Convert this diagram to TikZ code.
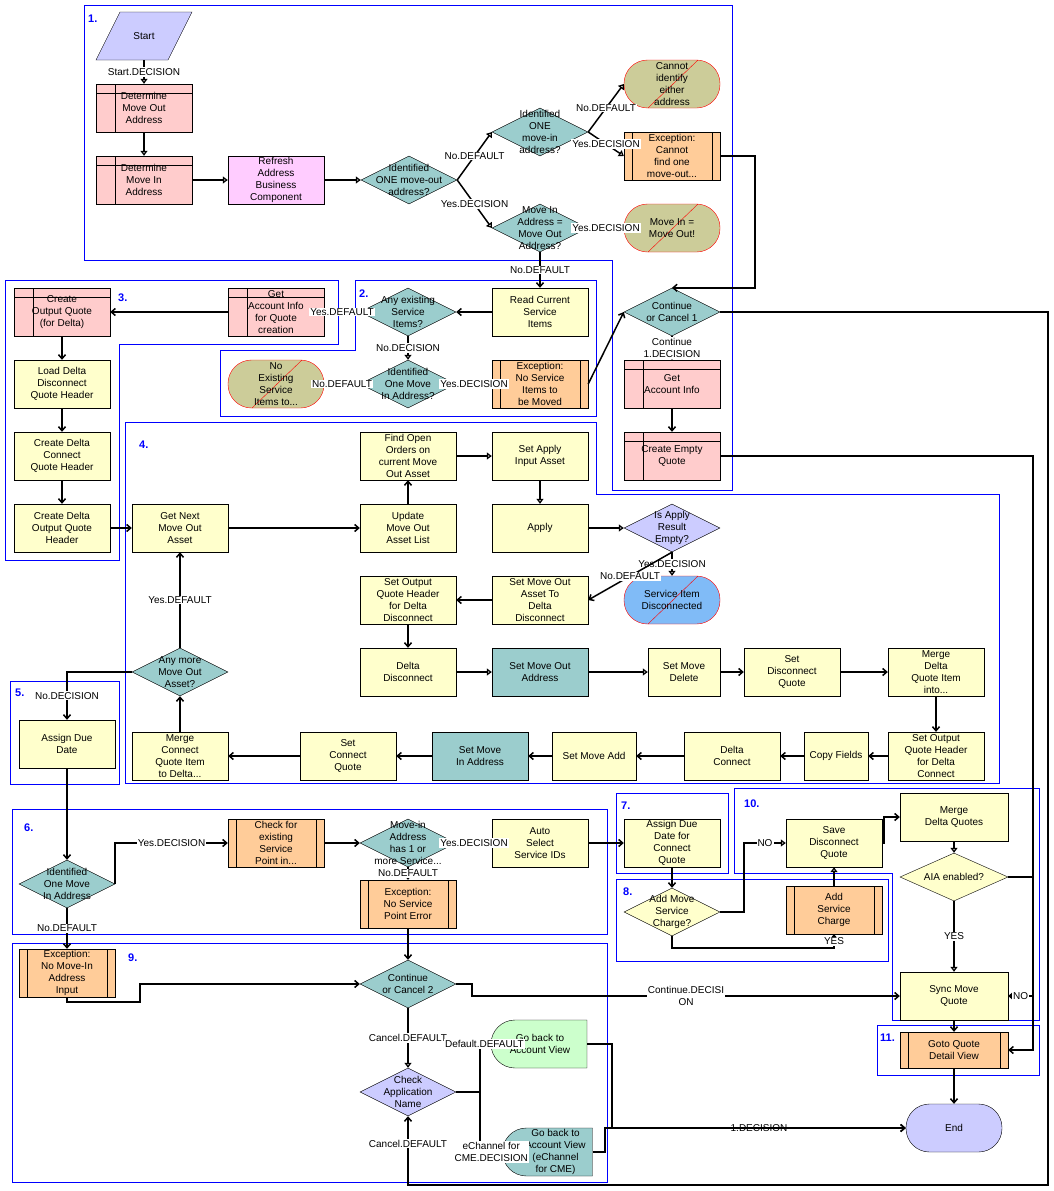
\documentclass[tikz,border=0pt]{standalone}
\usepackage{fontspec}
\setmainfont{Liberation Sans}
\usetikzlibrary{shapes.geometric,shapes.misc,arrows.meta}
\definecolor{lav}{RGB}{204,204,255}
\definecolor{subpink}{RGB}{255,204,204}
\definecolor{bcpink}{RGB}{255,204,255}
\definecolor{tealc}{RGB}{155,205,205}
\definecolor{khaki}{RGB}{204,204,153}
\definecolor{orangec}{RGB}{255,204,153}
\definecolor{yel}{RGB}{255,255,204}
\definecolor{skyc}{RGB}{128,187,247}
\definecolor{mint}{RGB}{204,255,204}
\definecolor{grp}{RGB}{0,0,255}
\begin{document}
\begin{tikzpicture}[x=1pt,y=-1pt,
  every node/.style={font=\fontsize{10}{12}\selectfont,align=center,inner sep=0pt},
  task/.style={rectangle,draw,fill=yel,minimum width=96pt,minimum height=48pt},
  subproc/.style={task,fill=subpink,path picture={
      \draw ([yshift=-9pt]path picture bounding box.north west) -- ([yshift=-9pt]path picture bounding box.north east);
      \draw ([xshift=19pt]path picture bounding box.north west) -- ([xshift=19pt]path picture bounding box.south west);}},
  excep/.style={task,fill=orangec,path picture={
      \draw ([xshift=8pt]path picture bounding box.north west) -- ([xshift=8pt]path picture bounding box.south west);
      \draw ([xshift=-8pt]path picture bounding box.north east) -- ([xshift=-8pt]path picture bounding box.south east);}},
  decide/.style={diamond,draw,fill=tealc,minimum width=96pt,minimum height=48pt},
  terminal/.style={rectangle,rounded corners=23.5pt,draw,fill=lav,minimum width=96pt,minimum height=48pt},
  stopper/.style={terminal,draw=red,fill=khaki,path picture={
      \draw[red] ([xshift=24pt]path picture bounding box.south west) -- ([xshift=-22pt]path picture bounding box.north east);}},
  backview/.style={rounded rectangle,rounded rectangle right arc=none,draw,fill=mint,minimum width=96pt,minimum height=48pt},
  grpbox/.style={draw=grp,line width=0.8pt},
  grplab/.style={text=grp,font=\fontsize{11}{13}\selectfont\bfseries,anchor=west},
  flow/.style={draw,line width=1.5pt,-{Straight Barb[length=4pt,width=7pt]}},
  flowo/.style={draw,line width=1.5pt,-{Triangle[open,length=5pt,width=7pt]}},
  elab/.style={fill=white,inner sep=1pt}]
\useasboundingbox (0,0) rectangle (1054,1191);

% groups
\draw[grpbox] (84,5) -- (732,5) -- (732,490) -- (612,490) -- (612,260) -- (84,260) -- cycle;
\draw[grpbox] (355,280) -- (596,280) -- (596,416) -- (220,416) -- (220,350) -- (355,350) -- cycle;
\draw[grpbox] (5,280) -- (338,280) -- (338,344) -- (119,344) -- (119,560) -- (5,560) -- cycle;
\draw[grpbox] (125,422) -- (596,422) -- (596,494) -- (999,494) -- (999,783) -- (125,783) -- cycle;
\draw[grpbox] (10,681) rectangle (119,784);
\draw[grpbox] (12,809) rectangle (607,934);
\draw[grpbox] (616,793) rectangle (728,873);
\draw[grpbox] (616,879) rectangle (888,961);
\draw[grpbox] (12,943) rectangle (607,1182);
\draw[grpbox] (734,788) -- (1039,788) -- (1039,1020) -- (892,1020) -- (892,873) -- (734,873) -- cycle;
\draw[grpbox] (877,1025) rectangle (1039,1075);
\node[grplab] (g1) at (88,19) {1.};
\node[grplab] (g2) at (359,294) {2.};
\node[grplab] (g3) at (118,298) {3.};
\node[grplab] (g4) at (139,445) {4.};
\node[grplab] (g5) at (15,693) {5.};
\node[grplab] (g6) at (24,828) {6.};
\node[grplab] (g7) at (621,806) {7.};
\node[grplab] (g8) at (623,892) {8.};
\node[grplab] (g9) at (128,958) {9.};
\node[grplab] (g10) at (744,804) {10.};
\node[grplab] (g11) at (880,1038) {11.};

% 1. find the addresses
\filldraw[fill=lav] (120,12) -- (192,12) -- (168,60) -- (96,60) -- cycle;
\node[minimum width=72pt,minimum height=48pt] (start) at (144,36) {Start};
\node[subproc] (detout) at (144,108) {Determine\\Move Out\\Address};
\node[subproc] (detin) at (144,180) {Determine\\Move In\\Address};
\node[task,fill=bcpink] (refresh) at (276,180) {Refresh\\Address\\Business\\Component};
\node[decide,label={center:{Identified\\ONE move-out\\address?}}] (oneout) at (409,180) {};
\node[decide,label={center:{Identified\\ONE\\move-in\\address?}}] (onein) at (540,132) {};
\node[decide,label={center:{Move In\\Address =\\Move Out\\Address?}}] (inisout) at (540,228) {};
\node[stopper] (noaddr) at (672,84) {Cannot\\identify\\either\\address};
\node[excep] (exout) at (672,156) {Exception:\\Cannot\\find one\\move-out...};
\node[stopper] (samein) at (672,228) {Move In =\\Move Out!};
\node[decide,label={center:{Continue\\or Cancel 1}}] (cont1) at (672,312) {};
\node[subproc] (getacct) at (672,384) {Get\\Account Info};
\node[subproc] (emptyq) at (672,456) {Create Empty\\Quote};

% 2. and 3. service items, quote headers
\node[task] (readsvc) at (540,312) {Read Current\\Service\\Items};
\node[decide,label={center:{Any existing\\Service\\Items?}}] (anysvc) at (408,312) {};
\node[decide,label={center:{Identified\\One Move\\In Address?}}] (onein2) at (408,384) {};
\node[excep] (exsvc) at (540,384) {Exception:\\No Service\\Items to\\be Moved};
\node[stopper] (nosvc) at (276,384) {No\\Existing\\Service\\Items to...};
\node[subproc] (getacctq) at (276,312) {Get\\Account Info\\for Quote\\creation};
\node[subproc] (outq) at (62,312) {Create\\Output Quote\\(for Delta)};
\node[task] (loaddisc) at (62,384) {Load Delta\\Disconnect\\Quote Header};
\node[task] (crconn) at (62,456) {Create Delta\\Connect\\Quote Header};
\node[task] (croutq) at (62,528) {Create Delta\\Output Quote\\Header};

% 4. loop over move out assets
\node[task] (nextasset) at (180,528) {Get Next\\Move Out\\Asset};
\node[task] (findopen) at (408,456) {Find Open\\Orders on\\current Move\\Out Asset};
\node[task] (setapply) at (540,456) {Set Apply\\Input Asset};
\node[task] (update) at (408,528) {Update\\Move Out\\Asset List};
\node[task] (apply) at (540,528) {Apply};
\node[decide,fill=lav,label={center:{Is Apply\\Result\\Empty?}}] (isempty) at (672,528) {};
\node[stopper,fill=skyc] (svcdisc) at (672,600) {Service Item\\Disconnected};
\node[task] (assetdisc) at (540,600) {Set Move Out\\Asset To\\Delta\\Disconnect};
\node[task] (hdrdisc) at (408,600) {Set Output\\Quote Header\\for Delta\\Disconnect};
\node[task] (deltadisc) at (408,672) {Delta\\Disconnect};
\node[task,fill=tealc] (outaddr) at (540,672) {Set Move Out\\Address};
\node[task,minimum width=72pt] (movedel) at (684,672) {Set Move\\Delete};
\node[task] (discq) at (792,672) {Set\\Disconnect\\Quote};
\node[task] (mergeitem) at (936,672) {Merge\\Delta\\Quote Item\\into...};
\node[task] (hdrconn) at (936,756) {Set Output\\Quote Header\\for Delta\\Connect};
\node[task,minimum width=64pt] (copyf) at (836,756) {Copy Fields};
\node[task] (deltaconn) at (732,756) {Delta\\Connect};
\node[task,minimum width=84pt] (moveadd) at (594,756) {Set Move Add};
\node[task,fill=tealc] (inaddr) at (480,756) {Set Move\\In Address};
\node[task] (connq) at (348,756) {Set\\Connect\\Quote};
\node[task] (mergeconn) at (180,756) {Merge\\Connect\\Quote Item\\to Delta...};
\node[decide,label={center:{Any more\\Move Out\\Asset?}}] (anymore) at (180,672) {};

% 5. to 8.
\node[task] (duedate) at (67,744) {Assign Due\\Date};
\node[decide,label={center:{Identified\\One Move\\In Address}}] (onein3) at (67,884) {};
\node[excep] (chksp) at (276,843) {Check for\\existing\\Service\\Point in...};
\node[decide,label={center:{Move-in\\Address\\has 1 or\\more Service...}}] (hassp) at (408,843) {};
\node[task] (autosel) at (540,843) {Auto\\Select\\Service IDs};
\node[excep] (exsp) at (408,904) {Exception:\\No Service\\Point Error};
\node[task] (dueconn) at (672,843) {Assign Due\\Date for\\Connect\\Quote};
\node[decide,fill=yel,label={center:{Add Move\\Service\\Charge?}}] (addchg) at (672,912) {};
\node[excep] (svcchg) at (834,910) {Add\\Service\\Charge};

% 10. and 11.
\node[task] (savedisc) at (834,843) {Save\\Disconnect\\Quote};
\node[task,minimum width=108pt] (mergeq) at (954,817) {Merge\\Delta Quotes};
\node[decide,fill=yel,minimum width=108pt,label={center:{AIA enabled?}}] (aia) at (954,877) {};
\node[task,minimum width=108pt] (sync) at (954,996) {Sync Move\\Quote};
\node[excep,minimum width=108pt,minimum height=36pt] (gotoq) at (954,1050) {Goto Quote\\Detail View};
\node[terminal] (endn) at (954,1128) {End};

% 9. cancel
\node[excep] (exnoin) at (67,973) {Exception:\\No Move-In\\Address\\Input};
\node[decide,label={center:{Continue\\or Cancel 2}}] (cont2) at (408,984) {};
\node[decide,fill=lav,label={center:{Check\\Application\\Name}}] (chkapp) at (408,1092) {};
\node[backview] (goback) at (540,1044) {Go back to\\Account View};
\node[backview,fill=tealc,minimum width=90pt] (gobackec) at (555.5,1152) {Go back to\\Account View\\(eChannel\\for CME)};

% connectors
\path[flowo] (start) -- node[elab] {Start.DECISION} (detout);
\path[flowo] (detout) -- (detin);
\path[flowo] (detin) -- (refresh);
\path[flowo] (refresh) -- (oneout);
\path[flowo] (oneout.east) -- node[elab] {No.DEFAULT} (onein.west);
\path[flowo] (oneout.east) -- node[elab] {Yes.DECISION} (inisout.west);
\path[flowo] (onein.east) -- node[elab] {No.DEFAULT} (noaddr.west);
\path[flowo] (onein.east) -- node[elab] {Yes.DECISION} (exout.west);
\path[flow] (inisout.east) -- node[elab] {Yes.DECISION} (samein.west);
\path[flow] (inisout) -- node[elab] {No.DEFAULT} (readsvc);
\path[flow] (exout.east) -- ++(35,0) |- (cont1.north);
\path[flow] (exsvc.east) -- (cont1.west);
\path[flow] (cont1) -- node[elab] {Continue\\1.DECISION} (getacct);
\path[flow] (getacct) -- (emptyq);
\path[flow] (emptyq.east) -- ++(313,0) |- (gotoq.east);
\path[flow] (cont1.east) -- ++(328,0) -- ++(0,873) -| node[elab,pos=0.8] {Cancel.DEFAULT} (chkapp.south);

\path[flow] (readsvc) -- (anysvc);
\path[flow] (anysvc) -- node[elab] {Yes.DEFAULT} (getacctq);
\path[flowo] (anysvc) -- node[elab] {No.DECISION} (onein2);
\path[flow] (onein2) -- node[elab] {No.DEFAULT} (nosvc);
\path[flow] (onein2) -- node[elab] {Yes.DECISION} (exsvc);
\path[flow] (getacctq) -- (outq);
\path[flow] (outq) -- (loaddisc);
\path[flow] (loaddisc) -- (crconn);
\path[flow] (crconn) -- (croutq);
\path[flow] (croutq) -- (nextasset);

\path[flow] (nextasset) -- (update);
\path[flow] (update) -- (findopen);
\path[flowo] (findopen) -- (setapply);
\path[flowo] (setapply) -- (apply);
\path[flowo] (apply) -- (isempty);
\path[flowo] (isempty) -- node[elab] {Yes.DECISION} (svcdisc);
\path[flow] (isempty.south) -- node[elab] {No.DEFAULT} (assetdisc.east);
\path[flow] (assetdisc) -- (hdrdisc);
\path[flow] (hdrdisc) -- (deltadisc);
\path[flowo] (deltadisc) -- (outaddr);
\path[flowo] (outaddr) -- (movedel);
\path[flow] (movedel) -- (discq);
\path[flow] (discq) -- (mergeitem);
\path[flow] (mergeitem) -- (hdrconn);
\path[flow] (hdrconn) -- (copyf);
\path[flow] (copyf) -- (deltaconn);
\path[flow] (deltaconn) -- (moveadd);
\path[flow] (moveadd) -- (inaddr);
\path[flow] (inaddr) -- (connq);
\path[flow] (connq) -- (mergeconn);
\path[flow] (mergeconn) -- (anymore);
\path[flow] (anymore) -- node[elab] {Yes.DEFAULT} (nextasset);
\path[flow] (anymore.west) -| node[elab,pos=0.75] {No.DECISION} (duedate.north);

\path[flow] (duedate) -- (onein3);
\path[flow] (onein3.east) |- node[elab,pos=0.75] {Yes.DECISION} (chksp.west);
\path[flow] (chksp) -- (hassp);
\path[flow] (hassp) -- node[elab] {Yes.DECISION} (autosel);
\path[flow] (hassp) -- node[elab] {No.DEFAULT} (exsp);
\path[flow] (autosel) -- (dueconn);
\path[flow] (onein3) -- node[elab] {No.DEFAULT} (exnoin);
\path[flow] (dueconn) -- (addchg);
\path[flowo] (addchg.east) -- ++(24,0) |- node[elab,pos=0.75] {NO} (savedisc.west);
\path[flow] (addchg.south) -- ++(0,12) -| node[elab,pos=0.75] {YES} (svcchg.south);
\path[flowo] (svcchg) -- (savedisc);
\path[flow] (savedisc.east) -- ++(2,0) |- (mergeq.west);
\path[flowo] (mergeq) -- (aia);
\path[flowo] (aia) -- node[elab] {YES} (sync);
\path[flow] (aia.east) -- ++(25,0) |- node[elab,pos=0.75] {NO} (sync.east);
\path[flow] (sync) -- (gotoq);
\path[flow] (gotoq) -- (endn);

\path[flow] (exsp) -- (cont2);
\path[flow] (exnoin.south) -- ++(0,5) -- ++(73,0) |- (cont2.west);
\path[flow] (cont2.east) -- ++(16,0) |- node[elab,pos=0.75] {Continue.DECISI\\ON} (sync.west);
\path[flowo] (cont2) -- node[elab] {Cancel.DEFAULT} (chkapp);
\path[flow] (chkapp.east) -- ++(24,0) |- node[elab,pos=0.7] {Default.DEFAULT} (goback.west);
\path[flow] (chkapp.east) -- ++(24,0) |- node[elab,pos=0.75] {eChannel for\\CME.DECISION} (gobackec.west);
\path[flow] (goback.east) -- ++(25,0) |- node[elab,pos=0.75] {1.DECISION} (endn.west);
\path[flow] (gobackec.east) -- ++(12.5,0) |- (endn.west);
\end{tikzpicture}
\end{document}
